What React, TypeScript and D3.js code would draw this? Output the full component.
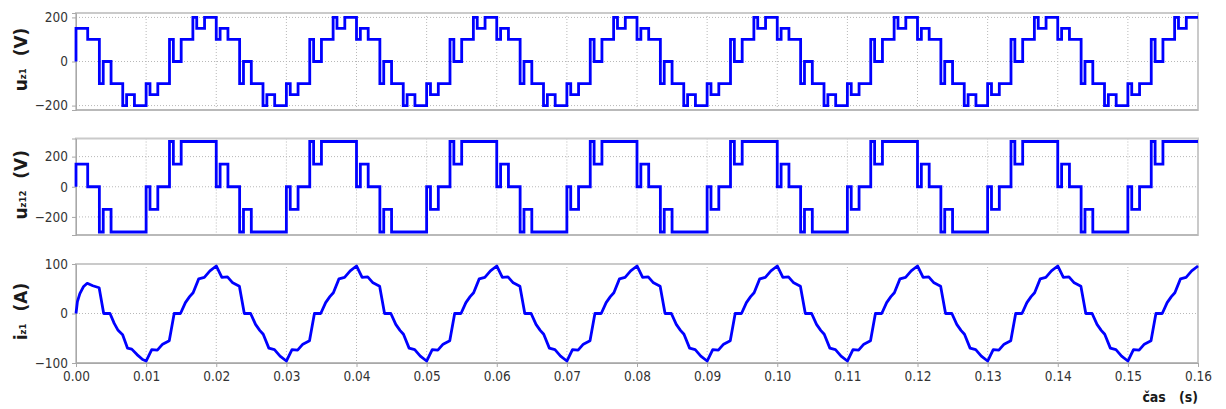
import React, { useRef, useEffect } from 'react';
import * as d3 from 'd3';

// one switching period = 20 ms, the run shows 8 of them
const periodMs = 20;
const periodCount = 8;
const xTicks = [0, 0.01, 0.02, 0.03, 0.04, 0.05, 0.06, 0.07, 0.08, 0.09, 0.1, 0.11, 0.12, 0.13, 0.14, 0.15, 0.16];

// u_z1 (V): switching instants inside one period (ms) and the level after each
const uz1Times = [0, 0.55, 1.667, 3.333, 3.883, 5.0, 6.667, 7.217, 8.333, 10.0, 10.55, 11.667, 13.333, 13.883, 15.0, 16.667, 17.217, 18.333];
const uz1Levels = [100, 150, 100, -100, 0, -100, -200, -150, -200, -100, -150, -100, 100, 0, 100, 200, 150, 200];
// start of the run (first sector has no pulse)
const uz1StartTimes = [0, 0];
const uz1StartLevels = [0, 150];

// u_z12 (V)
const uz12Times = [0, 0.55, 1.667, 3.333, 3.883, 5.0, 10.0, 10.55, 11.667, 13.333, 13.883, 15.0];
const uz12Levels = [0, 150, 0, -300, -150, -300, 0, -150, 0, 300, 150, 300];
const uz12StartTimes = [0, 0];
const uz12StartLevels = [0, 150];

// i_z1 (A): steady state samples inside one period (ms)
const iz1Times = [0, 0.8, 1.6, 2.35, 3.3, 4.0, 4.9, 5.6, 6.2, 6.7, 7.5, 8.3, 9.1, 10.0, 10.8, 11.6, 12.35, 13.3, 14.0, 14.9, 15.6, 16.2, 16.7, 17.5, 18.3, 19.1];
const iz1Values = [96, 73, 74, 62, 55, 0, 0, -22, -34, -42, -70, -73, -86, -96, -73, -74, -62, -55, 0, 0, 22, 34, 42, 70, 73, 86];
// first half period (start-up)
const iz1StartTimes = [0, 0.2, 0.55, 1.05, 1.6, 2.4, 3.3, 3.95, 4.85, 5.45, 6.0, 6.65, 7.35, 7.95, 8.7, 9.5];
const iz1StartValues = [0, 24, 40, 54, 61, 56, 52, 0, 0, -20, -34, -43, -70, -72, -83, -93];

const uTicks = [-200, 0, 200];
const iTicks = [-100, 0, 100];

type Pt = [number, number];

function buildSeries(startT: number[], startV: number[], times: number[], vals: number[], skipBefore: number, closeWithFirst: boolean): Pt[] {
  const pts: Pt[] = startT.map((t, i) => [t / 1000, startV[i]] as Pt);
  for (let p = 0; p < periodCount; p++) {
    times.forEach((t, i) => {
      if (p === 0 && t < skipBefore) return;
      pts.push([(p * periodMs + t) / 1000, vals[i]]);
    });
  }
  const endT = (periodCount * periodMs) / 1000;
  if (closeWithFirst) pts.push([endT, vals[0]]);
  else pts.push([endT, pts[pts.length - 1][1]]);
  return pts;
}

const panels = [
  { top: 13, bottom: 110, domain: [-220, 220], ticks: uTicks, sym: 'u', sub: 'z1', unit: '(V)', step: true,
    data: buildSeries(uz1StartTimes, uz1StartLevels, uz1Times, uz1Levels, 1.667, false) },
  { top: 138.5, bottom: 235, domain: [-320, 320], ticks: uTicks, sym: 'u', sub: 'z12', unit: '(V)', step: true,
    data: buildSeries(uz12StartTimes, uz12StartLevels, uz12Times, uz12Levels, 1.667, false) },
  { top: 264, bottom: 363, domain: [-100, 100], ticks: iTicks, sym: 'i', sub: 'z1', unit: '(A)', step: false,
    data: buildSeries(iz1StartTimes, iz1StartValues, iz1Times, iz1Values, 10, true) },
];

const W = 1226;
const H = 409;
const left = 76;
const right = 1198;
const tickFont = "'DejaVu Sans Condensed', 'DejaVu Sans', sans-serif";

export default function App() {
  const ref = useRef<SVGSVGElement>(null);

  useEffect(() => {
    const svg = d3.select(ref.current);
    svg.selectAll('*').remove();

    const x = d3.scaleLinear().domain([0, 0.16]).range([left, right]);

    panels.forEach((pn, idx) => {
      const y = d3.scaleLinear().domain(pn.domain).range([pn.bottom, pn.top]);
      const g = svg.append('g');

      // dotted grid
      g.selectAll('line.vg').data(xTicks).enter().append('line')
        .attr('x1', d => x(d)).attr('x2', d => x(d))
        .attr('y1', pn.top).attr('y2', pn.bottom)
        .attr('stroke', '#b8b8b8').attr('stroke-width', 1).attr('stroke-dasharray', '1,2');
      g.selectAll('line.hg').data(pn.ticks).enter().append('line')
        .attr('x1', left).attr('x2', right)
        .attr('y1', d => y(d)).attr('y2', d => y(d))
        .attr('stroke', '#b8b8b8').attr('stroke-width', 1).attr('stroke-dasharray', '1,2');

      // frame
      g.append('rect')
        .attr('x', left).attr('y', pn.top)
        .attr('width', right - left).attr('height', pn.bottom - pn.top)
        .attr('fill', 'none').attr('stroke', '#cacaca').attr('stroke-width', 2);

      // y axis
      const ya = g.append('g').attr('transform', `translate(${left},0)`)
        .call(d3.axisLeft(y).tickValues(pn.ticks).tickSize(4).tickPadding(4).tickFormat(d3.format('d')));
      ya.select('.domain').attr('stroke', '#a8a8a8');
      ya.selectAll('.tick line').attr('stroke', '#a8a8a8');
      ya.selectAll('.tick text').attr('fill', '#333').style('font-family', tickFont).style('font-size', '13.5px');

      // bottom axis line
      g.append('line').attr('x1', left).attr('x2', right).attr('y1', pn.bottom).attr('y2', pn.bottom)
        .attr('stroke', '#a8a8a8').attr('stroke-width', 1);

      if (idx === panels.length - 1) {
        const xa = g.append('g').attr('transform', `translate(0,${pn.bottom})`)
          .call(d3.axisBottom(x).tickValues(xTicks).tickSize(4).tickPadding(4).tickFormat(d3.format('.2f')));
        xa.select('.domain').attr('stroke', '#a8a8a8');
        xa.selectAll('.tick line').attr('stroke', '#a8a8a8');
        xa.selectAll('.tick text').attr('fill', '#333').style('font-family', tickFont).style('font-size', '13.5px');
      }

      // signal
      const line = d3.line<Pt>()
        .x(d => x(d[0]))
        .y(d => y(d[1]))
        .curve(pn.step ? d3.curveStepAfter : d3.curveLinear);
      g.append('path')
        .datum(pn.data)
        .attr('d', line)
        .attr('fill', 'none')
        .attr('stroke', '#0000ff')
        .attr('stroke-width', 2.8)
        .attr('stroke-linejoin', pn.step ? 'miter' : 'round');

      // y label
      const cy = (pn.top + pn.bottom) / 2 - 2;
      const t = g.append('text')
        .attr('transform', `translate(27,${cy}) rotate(-90)`)
        .attr('text-anchor', 'middle')
        .style('font-family', "'DejaVu Sans', sans-serif")
        .style('font-weight', 'bold')
        .style('font-size', '17px')
        .attr('fill', '#1a1a1a');
      t.append('tspan').text(pn.sym);
      t.append('tspan').attr('dy', -1).style('font-size', '8.5px').text(pn.sub);
      t.append('tspan').attr('dx', 12).attr('dy', 1).text(pn.unit);
    });

    // x label
    svg.append('text')
      .attr('x', right).attr('y', 402)
      .attr('text-anchor', 'end')
      .style('font-family', "'DejaVu Sans Condensed', 'DejaVu Sans', sans-serif")
      .style('font-weight', 'bold')
      .style('font-size', '14px')
      .attr('fill', '#1a1a1a')
      .text('čas\u00a0\u00a0 (s)');
  }, []);

  return (
    <svg ref={ref} width={W} height={H}
      style={{ position: 'absolute', left: 0, top: 0, background: '#fff', display: 'block' }} />
  );
}
